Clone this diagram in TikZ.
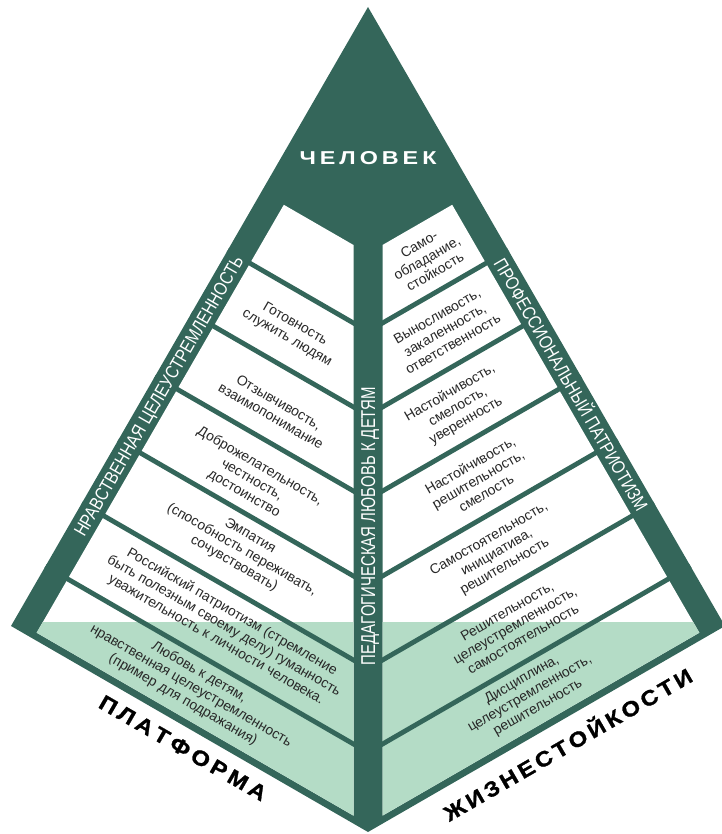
\documentclass[tikz,border=0pt]{standalone}
\usepackage{fontspec}
\setmainfont{Liberation Sans}
\newfontfamily\widebf[FakeStretch=1.25]{Liberation Sans}
\newfontfamily\heavy[FakeBold=1.2,FakeStretch=1.12]{Liberation Sans Bold}
\usepackage{graphicx}
\definecolor{dk}{RGB}{52,102,90}
\definecolor{lg}{RGB}{180,220,198}
\definecolor{tx}{RGB}{40,40,40}
\tikzset{
  item/.style={font=\fontsize{10.5}{12}\selectfont, text=tx, align=center, inner sep=0pt},
  litem/.style={item, rotate=-30},
  ritem/.style={item, rotate=30},
  band/.style={font=\fontsize{14}{16}\selectfont, text=white, inner sep=0pt, text height=10pt, text depth=0pt},
  big/.style={font=\heavy\fontsize{16}{18}\selectfont, text=black, inner sep=0pt},
  sep/.style={dk, line width=3.6pt}
}
\begin{document}
\begin{tikzpicture}[x=0.75pt,y=-0.75pt]
\useasboundingbox (0,0) rectangle (721,834);
\coordinate (A) at (368,7);
\coordinate (L) at (11,626);
\coordinate (B) at (368,832);
\coordinate (R) at (725,626);
\fill[dk] (A) -- (L) -- (B) -- (R) -- cycle;
% white panels
\fill[white] (283.8,204.8) -- (353.5,245) -- (353.5,815.6) -- (36.7,632.7) -- cycle;
\fill[white] (452.2,204.8) -- (382.5,245) -- (382.5,815.6) -- (699.3,632.7) -- cycle;
\begin{scope}
\clip (283.8,204.8) -- (353.5,245) -- (353.5,815.6) -- (36.7,632.7) -- cycle
      (452.2,204.8) -- (382.5,245) -- (382.5,815.6) -- (699.3,632.7) -- cycle;
\fill[lg] (0,622) rectangle (736,840);
\end{scope}
% separators
\begin{scope}
\clip (A) -- (L) -- (B) -- (R) -- cycle;
\foreach \yb in {323,407,491,576,660,744} {
  \draw[sep] (0,\yb-204.1) -- (368,\yb+8.4) -- (736,\yb-204.1);
}
\end{scope}
% title
\node[font=\widebf\bfseries\fontsize{14}{16}\selectfont, text=white, inner sep=0pt] (top) at (368,158)
  {\makebox[102.75pt]{Ч\hfill Е\hfill Л\hfill О\hfill В\hfill Е\hfill К}};
% band texts
\node[band, rotate=60] (lb) at (158.5,396)
  {\resizebox{240pt}{\height}{НРАВСТВЕННАЯ ЦЕЛЕУСТРЕМЛЕННОСТЬ}};
\node[band, rotate=-60] (rb) at (571,385)
  {\resizebox{216pt}{\height}{ПРОФЕССИОНАЛЬНЫЙ ПАТРИОТИЗМ}};
\node[band, font=\fontsize{15}{17}\selectfont, text height=10.7pt, rotate=90] (cb) at (368,526)
  {\resizebox{208.5pt}{\height}{ПЕДАГОГИЧЕСКАЯ ЛЮБОВЬ К ДЕТЯМ}};
% left items
\node[litem] (l1) at (291,331) {Готовность\\служить людям};
\node[litem] (l2) at (275,409) {Отзывчивость,\\взаимопонимание};
\node[litem] (l3) at (252,480) {Доброжелательность,\\честность,\\достоинство};
\node[litem] (l4) at (242,550) {Эмпатия\\(способность переживать,\\сочувствовать)};
\node[litem] (l5) at (224,626) {Российский патриотизм (стремление\\быть полезным своему делу) гуманность\\уважительность к личности человека.};
\node[litem] (l6) at (191,686) {Любовь к детям,\\нравственная целеустремленность\\(пример для подражания)};
% right items
\node[ritem] (r1) at (427,258) {Само-\\обладание,\\стойкость};
\node[ritem] (r2) at (445,330) {Выносливость,\\закаленность,\\ответственность};
\node[ritem] (r3) at (458,407) {Настойчивость,\\смелость,\\уверенность};
\node[ritem] (r4) at (478,479) {Настойчивость,\\решительность,\\смелость};
\node[ritem] (r5) at (497,553) {Самостоятельность,\\инициатива,\\решительность};
\node[ritem] (r6) at (515,625) {Решительность,\\целеустремленность,\\самостоятельность};
\node[ritem] (r7) at (530,694) {Дисциплина,\\целеустремленность,\\решительность};
% bottom labels
\node[big, rotate=-30] (pl) at (183,748)
  {\makebox[142pt]{П\hfill Л\hfill А\hfill Т\hfill Ф\hfill О\hfill Р\hfill М\hfill А}};
\node[big, rotate=30] (zh) at (567,743)
  {\makebox[212pt]{Ж\hfill И\hfill З\hfill Н\hfill Е\hfill С\hfill Т\hfill О\hfill Й\hfill К\hfill О\hfill С\hfill Т\hfill И}};
\end{tikzpicture}
\end{document}
